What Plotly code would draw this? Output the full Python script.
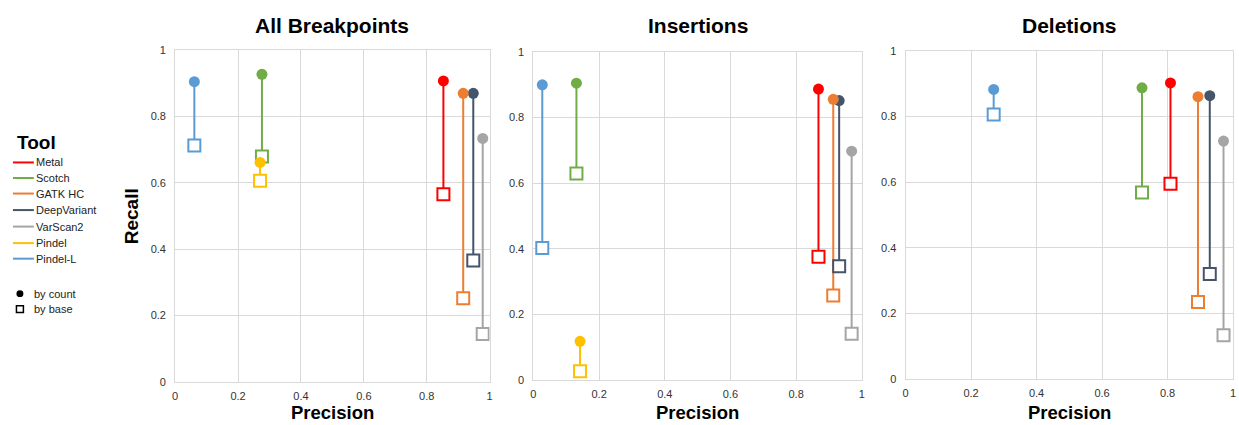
import plotly.graph_objects as go

W, H = 1239, 425

tools = ["Metal", "Scotch", "GATK HC", "DeepVariant", "VarScan2", "Pindel", "Pindel-L"]
colors = ["#FF0000", "#70AD47", "#ED7D31", "#44546A", "#A5A5A5", "#FFC000", "#5B9BD5"]
panel_titles = ["All Breakpoints", "Insertions", "Deletions"]

all_precision = [0.853, 0.276, 0.916, 0.948, 0.978, 0.270, 0.061]
all_recall_count = [0.906, 0.926, 0.869, 0.869, 0.733, 0.661, 0.904]
all_recall_base = [0.565, 0.679, 0.252, 0.366, 0.145, 0.606, 0.712]

ins_precision = [0.868, 0.131, 0.913, 0.931, 0.969, 0.142, 0.027]
ins_recall_count = [0.886, 0.904, 0.855, 0.851, 0.697, 0.118, 0.899]
ins_recall_base = [0.376, 0.629, 0.258, 0.347, 0.141, 0.027, 0.402]

del_precision = [0.809, 0.722, 0.893, 0.929, 0.971, None, 0.269]
del_recall_count = [0.902, 0.887, 0.860, 0.863, 0.725, None, 0.882]
del_recall_base = [0.595, 0.568, 0.235, 0.320, 0.134, None, 0.806]

tick_vals = [0, 0.2, 0.4, 0.6, 0.8, 1]
tick_text = ["0", "0.2", "0.4", "0.6", "0.8", "1"]

legend_markers = ["by count", "by base"]

panels = [
    (all_precision, all_recall_count, all_recall_base),
    (ins_precision, ins_recall_count, ins_recall_base),
    (del_precision, del_recall_count, del_recall_base),
]

# plot-area pixel boxes (left, right, top, bottom)
boxes = [(173, 489, 45, 387), (533, 863, 47, 385), (907, 1236, 46, 384)]

FONT = "Liberation Sans, Arial, Helvetica, sans-serif"

def px(x):
    return x / W

def py(y):
    return 1 - y / H

fig = go.Figure()

for i, (prec, rc, rb) in enumerate(panels):
    xa = "x" if i == 0 else f"x{i+1}"
    ya = "y" if i == 0 else f"y{i+1}"
    for t, c, p, a, b in zip(tools, colors, prec, rc, rb):
        if p is None:
            continue
        fig.add_trace(go.Scatter(x=[p, p], y=[a, b], mode="lines",
                                 line=dict(color=c, width=2), xaxis=xa, yaxis=ya,
                                 showlegend=False, hoverinfo="skip"))
    for t, c, p, b in zip(tools, colors, prec, rb):
        if p is None:
            continue
        fig.add_trace(go.Scatter(x=[p], y=[b], mode="markers",
                                 marker=dict(symbol="square", size=12, color="white",
                                             line=dict(color=c, width=2)),
                                 xaxis=xa, yaxis=ya, showlegend=False, name=t))
    for t, c, p, a in reversed(list(zip(tools, colors, prec, rc))):
        if p is None:
            continue
        fig.add_trace(go.Scatter(x=[p], y=[a], mode="markers",
                                 marker=dict(symbol="circle", size=11, color=c),
                                 xaxis=xa, yaxis=ya, showlegend=False, name=t))

layout = dict(
    width=W, height=H,
    margin=dict(l=0, r=0, t=0, b=0),
    paper_bgcolor="white", plot_bgcolor="white",
    font=dict(family=FONT, size=11, color="#333333"),
    showlegend=False,
)
annotations = []
shapes = []
for i, (l, r, t, b) in enumerate(boxes):
    sx = "" if i == 0 else str(i + 1)
    layout["xaxis" + sx] = dict(
        domain=[px(l), px(r)], range=[0, 1], anchor="y" + sx,
        tickvals=tick_vals, ticktext=tick_text, showgrid=True, gridcolor="#D9D9D9",
        gridwidth=1, showline=True, linecolor="#D9D9D9", mirror=True, zeroline=False,
        ticks="", ticklabelstandoff=4, tickfont=dict(size=11, color="#333333"), fixedrange=True,
    )
    layout["yaxis" + sx] = dict(
        domain=[py(b), py(t)], range=[0, 1], anchor="x" + sx,
        tickvals=tick_vals, ticktext=tick_text, showgrid=True, gridcolor="#D9D9D9",
        gridwidth=1, showline=True, linecolor="#D9D9D9", mirror=True, zeroline=False,
        ticks="", ticklabelstandoff=6, tickfont=dict(size=11, color="#333333"), fixedrange=True,
    )
    annotations.append(dict(text=panel_titles[i], x=px((l + r) / 2), y=py(20),
                            xref="paper", yref="paper", showarrow=False,
                            xanchor="center", yanchor="middle",
                            font=dict(family=FONT, size=21, color="#000000", weight="bold")))
    annotations.append(dict(text="Precision", x=px((l + r) / 2), y=py(405),
                            xref="paper", yref="paper", showarrow=False,
                            xanchor="center", yanchor="top",
                            font=dict(family=FONT, size=18.5, color="#000000", weight="bold")))

annotations.append(dict(text="Recall", x=px(130), y=py(216), xref="paper", yref="paper",
                        showarrow=False, textangle=-90, xanchor="center", yanchor="middle",
                        font=dict(family=FONT, size=19, color="#000000", weight="bold")))

annotations.append(dict(text="Tool", x=px(12), y=py(140), xref="paper", yref="paper",
                        showarrow=False, xanchor="left", yanchor="middle",
                        font=dict(family=FONT, size=19, color="#000000", weight="bold")))
leg_y = [161, 177, 193, 210, 227, 244, 260]
for t, c, yy in zip(tools, colors, leg_y):
    shapes.append(dict(type="line", xref="paper", yref="paper",
                       x0=px(10), x1=px(31), y0=py(yy), y1=py(yy),
                       line=dict(color=c, width=2)))
    annotations.append(dict(text=t, x=px(31), y=py(yy), xref="paper", yref="paper",
                            showarrow=False, xanchor="left", yanchor="middle",
                            font=dict(family=FONT, size=11, color="#222222")))
cy, sy = 296, 312
shapes.append(dict(type="circle", xref="paper", yref="paper",
                   x0=px(13.5), x1=px(20.5), y0=py(cy + 3.5), y1=py(cy - 3.5),
                   fillcolor="#000000", line=dict(color="#000000", width=0)))
shapes.append(dict(type="rect", xref="paper", yref="paper",
                   x0=px(13.5), x1=px(20.5), y0=py(sy + 3.5), y1=py(sy - 3.5),
                   fillcolor="white", line=dict(color="#000000", width=1.5)))
for txt, yy in zip(legend_markers, [cy, sy]):
    annotations.append(dict(text=txt, x=px(29), y=py(yy), xref="paper", yref="paper",
                            showarrow=False, xanchor="left", yanchor="middle",
                            font=dict(family=FONT, size=11, color="#222222")))

layout["annotations"] = annotations
layout["shapes"] = shapes
fig.update_layout(**layout)

fig.write_html("out.html", config={"displayModeBar": False})
